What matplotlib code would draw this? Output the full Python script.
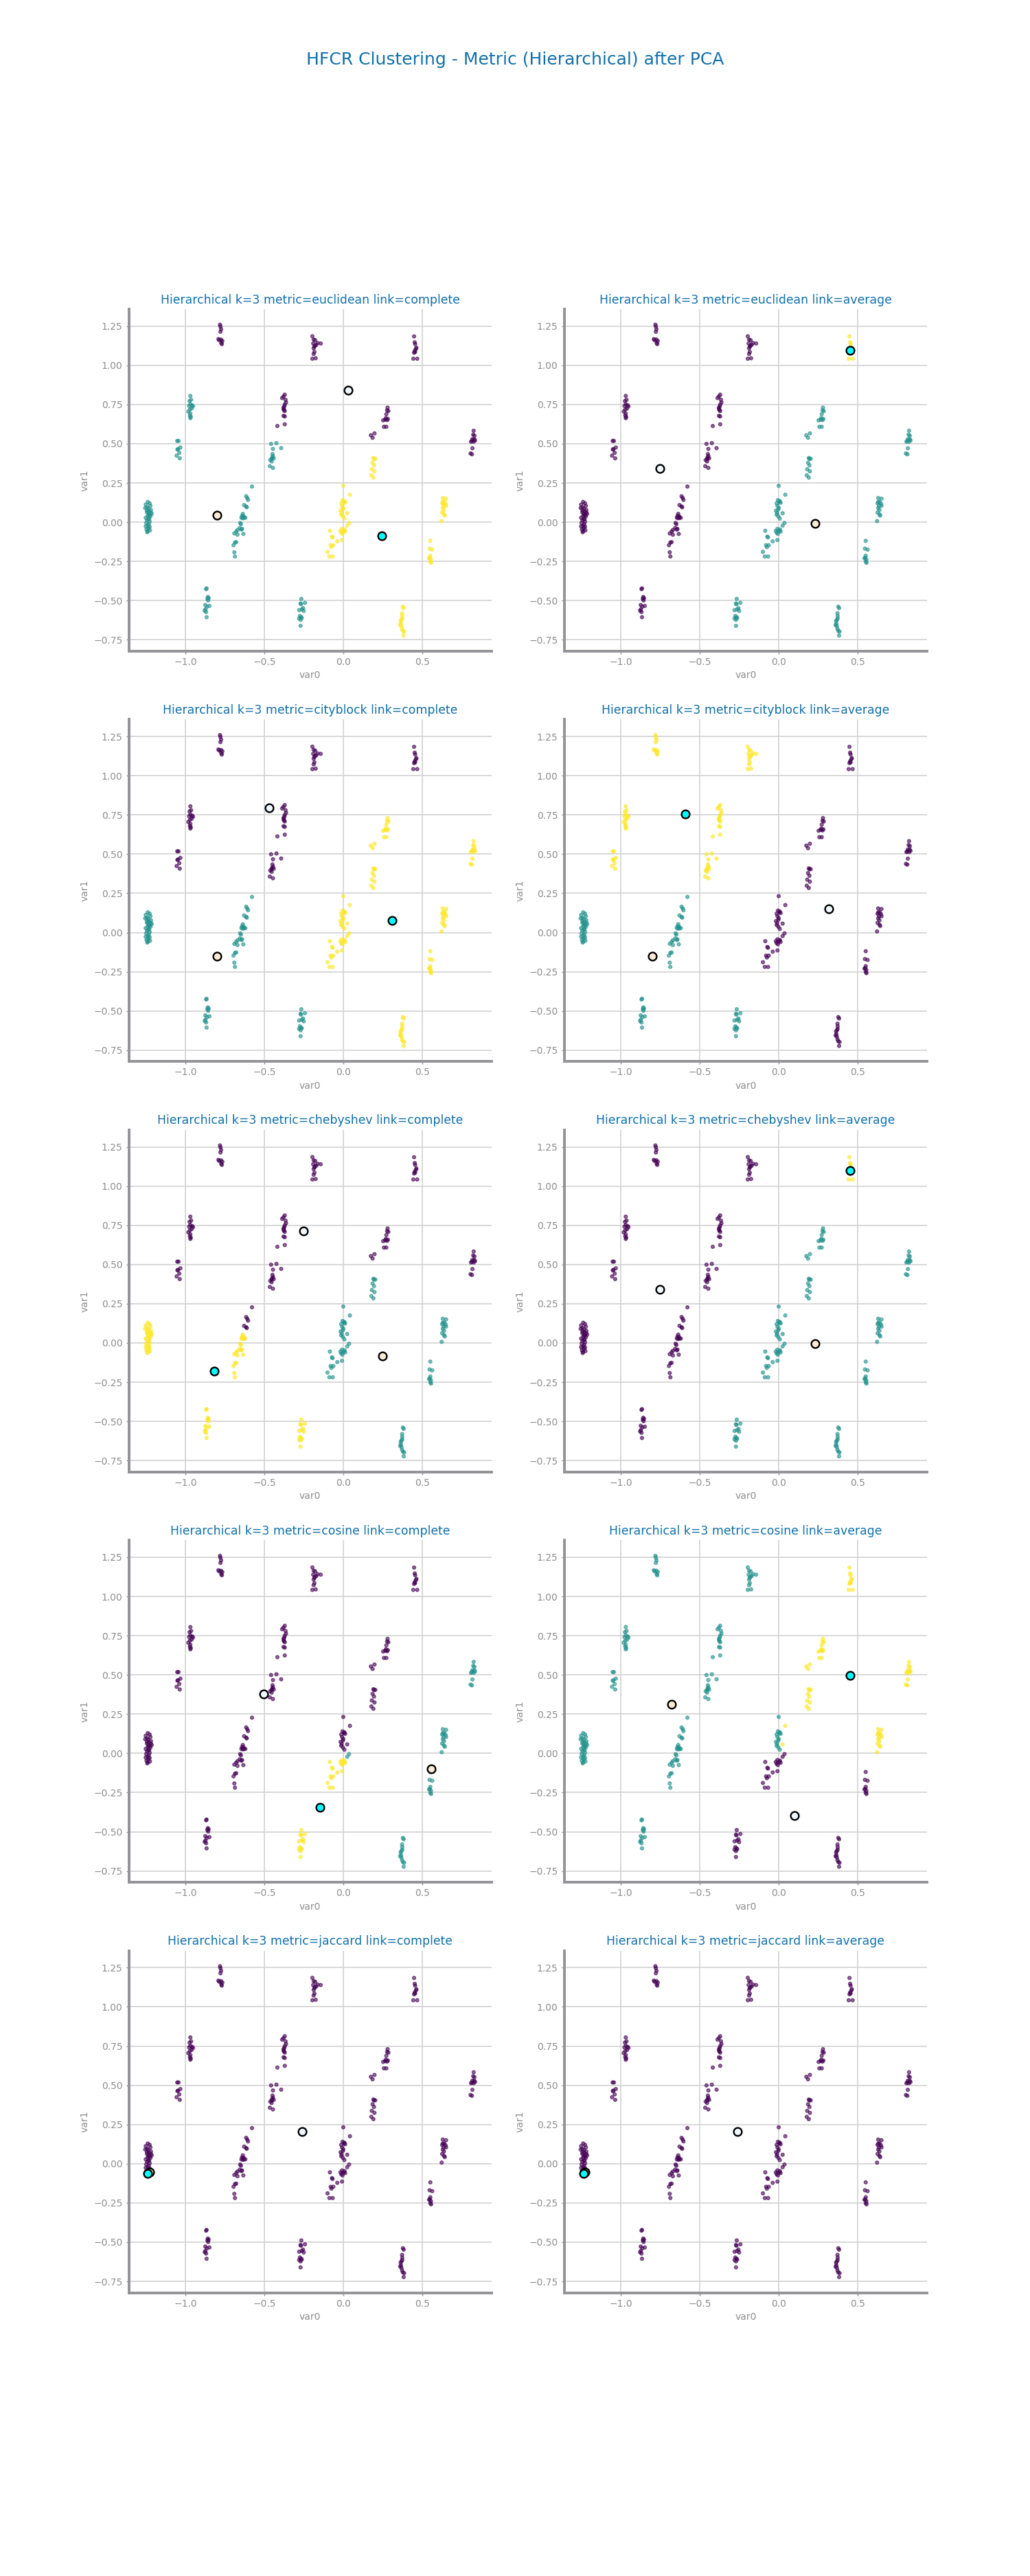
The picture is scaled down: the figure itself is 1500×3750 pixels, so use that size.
import matplotlib
matplotlib.use("Agg")
import matplotlib.pyplot as plt
import numpy as np

# ---------------- data (PCA projection) ----------------
blob_A = [(-1.240, 0.129), (-1.228, 0.120), (-1.253, 0.112), (-1.223, 0.104), (-1.245, 0.095),
          (-1.236, 0.087), (-1.256, 0.090), (-1.220, 0.078), (-1.233, 0.070), (-1.245, 0.062),
          (-1.215, 0.053), (-1.228, 0.045), (-1.240, 0.040), (-1.223, 0.037), (-1.253, 0.028),
          (-1.236, 0.020), (-1.245, 0.012), (-1.228, 0.003), (-1.250, -0.005), (-1.233, -0.013),
          (-1.240, -0.022), (-1.253, -0.027), (-1.228, -0.030), (-1.236, -0.038), (-1.248, -0.047),
          (-1.240, -0.058), (-1.220, 0.062), (-1.236, 0.050), (-1.245, 0.073), (-1.231, 0.020)]
blob_B = [(-1.053, 0.518), (-1.045, 0.518), (-1.048, 0.466), (-1.033, 0.476), (-1.057, 0.424),
          (-1.040, 0.442), (-1.037, 0.407), (-1.052, 0.463)]
blob_C = [(-0.970, 0.805), (-0.965, 0.780), (-0.975, 0.772), (-0.970, 0.752), (-0.953, 0.738),
          (-0.978, 0.741), (-0.962, 0.725), (-0.973, 0.718), (-0.983, 0.705), (-0.970, 0.693),
          (-0.973, 0.680), (-0.967, 0.671), (-0.970, 0.663), (-0.958, 0.745)]
blob_D = [(-0.782, 1.259), (-0.779, 1.247), (-0.775, 1.230), (-0.779, 1.214), (-0.792, 1.167),
          (-0.775, 1.164), (-0.767, 1.155), (-0.774, 1.142), (-0.770, 1.135), (-0.787, 1.160)]
blob_E = [(-0.867, -0.422), (-0.870, -0.427), (-0.859, -0.477), (-0.862, -0.489), (-0.854, -0.484),
          (-0.875, -0.528), (-0.849, -0.534), (-0.865, -0.539), (-0.874, -0.556), (-0.879, -0.564),
          (-0.870, -0.573), (-0.867, -0.606), (-0.857, -0.499)]
blob_F_hi = [(-0.579, 0.227), (-0.616, 0.165), (-0.609, 0.154), (-0.604, 0.142), (-0.629, 0.109),
             (-0.616, 0.100), (-0.612, 0.095)]
blob_F_lo = [(-0.637, 0.053), (-0.642, 0.040), (-0.632, 0.037), (-0.621, 0.028), (-0.646, 0.028),
             (-0.637, 0.025), (-0.629, 0.028), (-0.654, -0.005), (-0.649, -0.013), (-0.657, -0.038),
             (-0.646, -0.047), (-0.671, -0.050), (-0.679, -0.060), (-0.691, -0.072), (-0.634, -0.075),
             (-0.671, -0.080), (-0.687, -0.130), (-0.679, -0.127), (-0.696, -0.147), (-0.691, -0.192),
             (-0.687, -0.219), (-0.642, -0.043)]
blob_G = [(-0.458, 0.499), (-0.424, 0.504), (-0.446, 0.467), (-0.394, 0.472), (-0.449, 0.434),
          (-0.446, 0.421), (-0.454, 0.404), (-0.441, 0.407), (-0.463, 0.396), (-0.454, 0.387),
          (-0.466, 0.357), (-0.446, 0.346), (-0.451, 0.412)]
blob_H = [(-0.371, 0.813), (-0.379, 0.801), (-0.388, 0.791), (-0.363, 0.763), (-0.371, 0.750),
          (-0.374, 0.738), (-0.378, 0.721), (-0.371, 0.708), (-0.379, 0.730), (-0.371, 0.674),
          (-0.379, 0.678), (-0.418, 0.613), (-0.371, 0.624), (-0.366, 0.780), (-0.376, 0.715)]
blob_I = [(-0.266, -0.489), (-0.243, -0.514), (-0.271, -0.518), (-0.268, -0.523), (-0.280, -0.561),
          (-0.263, -0.556), (-0.255, -0.548), (-0.275, -0.598), (-0.268, -0.606), (-0.280, -0.614),
          (-0.271, -0.623), (-0.263, -0.611), (-0.271, -0.661), (-0.251, -0.566)]
blob_J = [(-0.196, 1.185), (-0.188, 1.164), (-0.178, 1.160), (-0.191, 1.139), (-0.171, 1.130),
          (-0.183, 1.119), (-0.188, 1.108), (-0.143, 1.139), (-0.163, 1.142), (-0.183, 1.085),
          (-0.188, 1.072), (-0.196, 1.042), (-0.175, 1.045), (-0.180, 1.125)]
blob_K_up = [(0.000, 0.232), (-0.005, 0.140), (0.007, 0.134), (-0.013, 0.120), (0.012, 0.124),
             (-0.008, 0.104), (-0.017, 0.073), (-0.002, 0.082), (-0.013, 0.048), (-0.002, 0.037),
             (0.007, 0.023), (0.000, 0.092), (-0.010, 0.060), (0.005, 0.130)]
blob_K_r1 = [(0.042, 0.175), (0.025, 0.057)]
blob_K_r2 = [(0.037, -0.005), (0.025, -0.022)]
blob_K_mid = [(-0.008, -0.043), (0.003, -0.055), (-0.013, -0.067), (0.012, -0.060), (-0.005, -0.075),
              (-0.008, -0.114), (-0.018, -0.055), (0.008, -0.047)]
blob_K_lo = [(-0.085, -0.055), (-0.072, -0.092), (-0.068, -0.097), (-0.038, -0.122), (-0.063, -0.147),
             (-0.075, -0.159), (-0.100, -0.189), (-0.088, -0.219), (-0.067, -0.219), (-0.080, -0.147)]
blob_L = [(0.191, 0.409), (0.203, 0.404), (0.186, 0.379), (0.195, 0.362), (0.181, 0.337),
          (0.198, 0.324), (0.178, 0.299), (0.191, 0.284), (0.195, 0.404)]
blob_M = [(0.281, 0.730), (0.278, 0.713), (0.286, 0.708), (0.273, 0.688), (0.266, 0.654),
          (0.253, 0.649), (0.278, 0.651), (0.283, 0.658), (0.258, 0.608), (0.273, 0.608),
          (0.175, 0.554), (0.198, 0.566), (0.186, 0.538), (0.270, 0.663)]
blob_N = [(0.449, 1.184), (0.453, 1.147), (0.456, 1.135), (0.461, 1.105), (0.453, 1.092),
          (0.449, 1.080), (0.456, 1.085), (0.444, 1.042), (0.469, 1.042), (0.464, 1.112)]
blob_O = [(0.378, -0.539), (0.383, -0.548), (0.373, -0.581), (0.374, -0.598), (0.369, -0.623),
          (0.364, -0.631), (0.361, -0.656), (0.369, -0.664), (0.373, -0.681), (0.378, -0.693),
          (0.386, -0.698), (0.383, -0.723), (0.366, -0.648), (0.374, -0.614)]
blob_P = [(0.552, -0.119), (0.547, -0.169), (0.564, -0.175), (0.552, -0.214), (0.549, -0.227),
          (0.556, -0.239), (0.552, -0.252), (0.557, -0.259), (0.544, -0.230)]
blob_Q = [(0.631, 0.154), (0.652, 0.150), (0.641, 0.129), (0.627, 0.120), (0.649, 0.117),
          (0.636, 0.104), (0.652, 0.104), (0.631, 0.090), (0.639, 0.078), (0.627, 0.062),
          (0.639, 0.050), (0.644, 0.042), (0.624, 0.007), (0.632, 0.129)]
blob_R = [(0.827, 0.583), (0.824, 0.558), (0.832, 0.551), (0.819, 0.529), (0.836, 0.521),
          (0.816, 0.518), (0.827, 0.513), (0.810, 0.513), (0.819, 0.471), (0.807, 0.438),
          (0.816, 0.433), (0.831, 0.529)]
blob_A_s1 = [(-1.226, -0.052)]
blob_A_s2 = [(-1.243, -0.064)]

blobs = [blob_A, blob_B, blob_C, blob_D, blob_E, blob_F_hi, blob_F_lo, blob_G, blob_H, blob_I,
         blob_J, blob_K_up, blob_K_r1, blob_K_r2, blob_K_mid, blob_K_lo, blob_L, blob_M, blob_N,
         blob_O, blob_P, blob_Q, blob_R, blob_A_s1, blob_A_s2]

metrics = ['euclidean', 'cityblock', 'chebyshev', 'cosine', 'jaccard']
links = ['complete', 'average']

# cluster of each blob (order as in `blobs`), one list per (metric, link)
#                 A  B  C  D  E Fh Fl  G  H  I  J Ku K1 K2 Km Kl  L  M  N  O  P  Q  R s1 s2
lab_euc_com  = [1, 1, 1, 0, 1, 1, 1, 1, 0, 1, 0, 2, 2, 2, 2, 2, 2, 0, 0, 2, 2, 2, 0, 1, 1]
lab_euc_avg  = [0, 0, 0, 0, 0, 0, 0, 0, 0, 1, 0, 1, 1, 1, 1, 1, 1, 1, 2, 1, 1, 1, 1, 0, 0]
lab_city_com = [1, 0, 0, 0, 1, 1, 1, 0, 0, 1, 0, 2, 2, 2, 2, 2, 2, 2, 0, 2, 2, 2, 2, 1, 1]
lab_city_avg = [1, 2, 2, 2, 1, 1, 1, 2, 2, 1, 2, 0, 0, 0, 0, 0, 0, 0, 0, 0, 0, 0, 0, 1, 1]
lab_cheb_com = [2, 0, 0, 0, 2, 0, 2, 0, 0, 2, 0, 1, 1, 1, 1, 1, 1, 0, 0, 1, 1, 1, 0, 2, 2]
lab_cheb_avg = [0, 0, 0, 0, 0, 0, 0, 0, 0, 1, 0, 1, 1, 1, 1, 1, 1, 1, 2, 1, 1, 1, 1, 0, 0]
lab_cos_com  = [0, 0, 0, 0, 0, 0, 0, 0, 0, 2, 0, 0, 0, 1, 2, 2, 0, 0, 0, 1, 1, 1, 1, 0, 0]
lab_cos_avg  = [1, 1, 1, 1, 1, 1, 1, 1, 1, 0, 1, 1, 2, 0, 0, 0, 2, 2, 2, 0, 0, 2, 2, 1, 1]
lab_jac_com  = [0, 0, 0, 0, 0, 0, 0, 0, 0, 0, 0, 0, 0, 0, 0, 0, 0, 0, 0, 0, 0, 0, 0, 1, 2]
lab_jac_avg  = [0, 0, 0, 0, 0, 0, 0, 0, 0, 0, 0, 0, 0, 0, 0, 0, 0, 0, 0, 0, 0, 0, 0, 1, 2]

labels_all = [lab_euc_com, lab_euc_avg, lab_city_com, lab_city_avg, lab_cheb_com,
              lab_cheb_avg, lab_cos_com, lab_cos_avg, lab_jac_com, lab_jac_avg]

# cluster centres (x, y) for clusters 0, 1, 2
cen_euc_com  = [(0.030, 0.840), (-0.800, 0.045), (0.245, -0.085)]
cen_euc_avg  = [(-0.755, 0.340), (0.230, -0.010), (0.455, 1.095)]
cen_city_com = [(-0.471, 0.795), (-0.800, -0.153), (0.308, 0.075)]
cen_city_avg = [(0.317, 0.150), (-0.801, -0.153), (-0.594, 0.755)]
cen_cheb_com = [(-0.253, 0.712), (0.247, -0.085), (-0.819, -0.178)]
cen_cheb_avg = [(-0.755, 0.342), (0.231, -0.005), (0.452, 1.100)]
cen_cos_com  = [(-0.507, 0.378), (0.559, -0.100), (-0.149, -0.344)]
cen_cos_avg  = [(0.100, -0.396), (-0.679, 0.314), (0.455, 0.495)]
cen_jac_com  = [(-0.260, 0.207), (-1.226, -0.052), (-1.243, -0.064)]
cen_jac_avg  = [(-0.262, 0.207), (-1.226, -0.052), (-1.238, -0.064)]

centres_all = [cen_euc_com, cen_euc_avg, cen_city_com, cen_city_avg, cen_cheb_com,
               cen_cheb_avg, cen_cos_com, cen_cos_avg, cen_jac_com, cen_jac_avg]

centre_colors = ['aliceblue', 'antiquewhite', 'aqua']

# ---------------- style ----------------
title_color = '#1170aa'
text_gray = '#8e8e8e'
spine_gray = '#939397'
grid_gray = '#d2d2d2'

plt.rcParams['font.family'] = ['DejaVu Sans']

fig, axs = plt.subplots(5, 2, figsize=(15, 37.5), dpi=100)
fig.suptitle('HFCR Clustering - Metric (Hierarchical) after PCA', fontsize=18, color=title_color)

k = 0
for i, metric in enumerate(metrics):
    for j, link in enumerate(links):
        ax = axs[i, j]
        labs = labels_all[k]
        xs, ys, cs = [], [], []
        for b, lab in zip(blobs, labs):
            for (px, py) in b:
                xs.append(px)
                ys.append(py)
                cs.append(lab)
        ax.scatter(xs, ys, c=cs, cmap='viridis', vmin=0, vmax=2, s=12, alpha=0.6, zorder=2)
        cen = centres_all[k]
        for ci, (cx, cy) in enumerate(cen):
            ax.scatter([cx], [cy], s=72, c=centre_colors[ci], edgecolors='black',
                       linewidths=1.7, zorder=3)
        ax.set_title(f'Hierarchical k=3 metric={metric} link={link}', fontsize=12.4, color=title_color)
        ax.set_xlabel('var0', color=text_gray, fontsize=10)
        ax.set_ylabel('var1', color=text_gray, fontsize=10)
        ax.grid(True, color=grid_gray, linewidth=1.2, zorder=0)
        ax.set_axisbelow(True)
        for side in ['top', 'right']:
            ax.spines[side].set_visible(False)
        for side in ['left', 'bottom']:
            ax.spines[side].set_color(spine_gray)
            ax.spines[side].set_linewidth(2.8)
        ax.tick_params(colors=text_gray, labelsize=10, length=3, width=1)
        k += 1

fig.savefig('out.png', dpi=100)
